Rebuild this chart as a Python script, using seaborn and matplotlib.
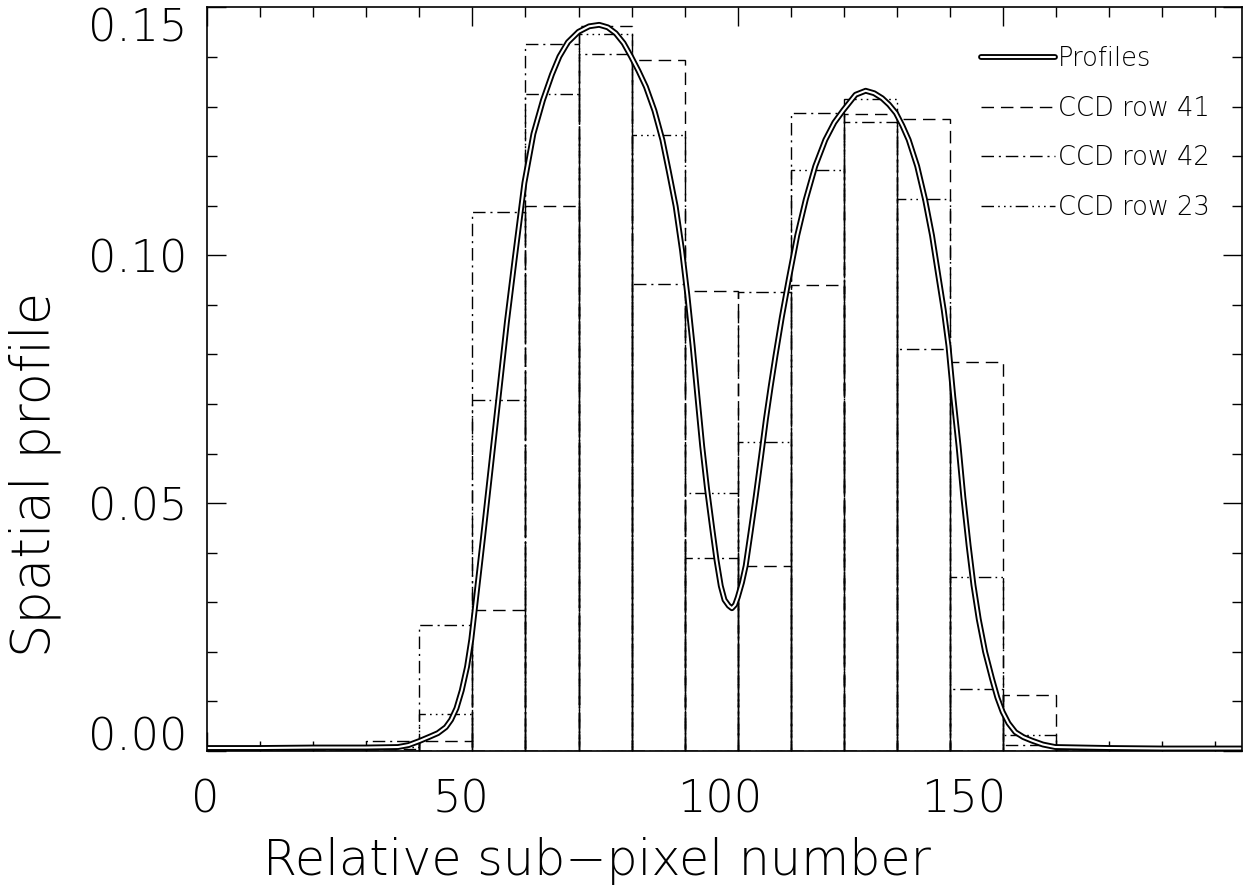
import numpy as np
import pandas as pd
import matplotlib
matplotlib.use('Agg')
import matplotlib.pyplot as plt
import matplotlib.transforms as mtransforms
import seaborn as sns
from matplotlib.ticker import MultipleLocator
from matplotlib.legend_handler import HandlerTuple

# model profile
prof_x = [0, 10, 20, 30, 36, 38, 40, 42, 43.5, 45, 46, 47, 48, 49, 49.8, 50.5, 52,
          53.5, 55, 56.5, 58, 59.8, 61.5, 63.3, 65, 66.4, 68, 70, 72, 73.9, 75.5,
          77, 78.5, 79.9, 81.3, 82.7, 84.3, 85.8, 87, 88.3, 89.5, 90.5, 91.5, 92.4,
          93.3, 94.2, 95.2, 96, 96.8, 97.5, 98.3, 98.9, 99.5, 100, 100.8, 101.5,
          102.4, 103.4, 104.4, 105.3, 106.2, 107.1, 108.3, 109.6, 111.2, 112.8,
          114.6, 116.5, 118.2, 119.9, 122.2, 124.1, 125.7, 127.2, 128.5, 129.8,
          131, 132.2, 133.8, 135.3, 136.6, 137.8, 138.8, 139.7, 140.6, 141.6,
          142.5, 143.5, 144.4, 145.4, 146.6, 147.9, 148.9, 149.9, 151, 152.3,
          153.8, 155.4, 157.5, 159.8, 170, 180, 195]
prof_y = [0.0006, 0.0006, 0.0007, 0.0007, 0.0008, 0.0012, 0.0020, 0.0029, 0.0036,
          0.0048, 0.0063, 0.0086, 0.0122, 0.0170, 0.0225, 0.0290, 0.0430, 0.0575,
          0.0720, 0.0865, 0.0995, 0.1146, 0.1245, 0.1313, 0.1365, 0.1401, 0.1430,
          0.1451, 0.1462, 0.1465, 0.1460, 0.1448, 0.1428, 0.1401, 0.1372, 0.1340,
          0.1292, 0.1233, 0.1170, 0.1099, 0.1010, 0.0920, 0.0817, 0.0715, 0.0615,
          0.0530, 0.0448, 0.0385, 0.0333, 0.0305, 0.0293, 0.0288, 0.0295, 0.0310,
          0.0340, 0.0374, 0.0440, 0.0515, 0.0595, 0.0669, 0.0735, 0.0797, 0.0875,
          0.0951, 0.1040, 0.1112, 0.1180, 0.1233, 0.1268, 0.1293, 0.1324, 0.1332,
          0.1327, 0.1317, 0.1304, 0.1287, 0.1262, 0.1233, 0.1180, 0.1112, 0.1040,
          0.0958, 0.0890, 0.0817, 0.0715, 0.0615, 0.0512, 0.0414, 0.0335, 0.0266,
          0.0200, 0.0146, 0.0108, 0.0079, 0.0056, 0.0038, 0.0028, 0.0021, 0.0013,
          0.0008, 0.0006, 0.0005, 0.0005]

# binned CCD rows (10 sub-pixels per CCD pixel)
bin_left = [0, 10, 20, 30, 40, 50, 60, 70, 80, 90, 100, 110, 120, 130, 140, 150,
            160, 170, 180]
row41 = [0.0004, 0.0004, 0.0004, 0.0004, 0.0021, 0.0285, 0.1100, 0.1462, 0.1394,
         0.0929, 0.0374, 0.0941, 0.1285, 0.1275, 0.0785, 0.0113, 0.0004, 0.0004,
         0.0004]
row42 = [0.0004, 0.0004, 0.0004, 0.0020, 0.0255, 0.1088, 0.1426, 0.1406, 0.0942,
         0.0389, 0.0925, 0.1288, 0.1268, 0.0811, 0.0125, 0.0013, 0.0004, 0.0004,
         0.0004]
row23 = [0.0004, 0.0004, 0.0004, 0.0008, 0.0075, 0.0708, 0.1325, 0.1446, 0.1242,
         0.0520, 0.0624, 0.1173, 0.1316, 0.1114, 0.0352, 0.0032, 0.0004, 0.0004,
         0.0004]

xtick_vals = [0, 50, 100, 150]
xtick_text = ['0', '50', '100', '150']
ytick_vals = [0, 0.05, 0.10, 0.15]
ytick_text = ['0.00', '0.05', '0.10', '0.15']

sns.set_style('ticks')
plt.rcParams['font.family'] = ['DejaVu Sans']
plt.rcParams['font.weight'] = 'light'
plt.rcParams['axes.labelweight'] = 'light'
plt.rcParams['text.color'] = 'black'
plt.rcParams['axes.labelcolor'] = 'black'
plt.rcParams['xtick.color'] = 'black'
plt.rcParams['ytick.color'] = 'black'

fig = plt.figure(figsize=(12.46, 8.90), dpi=100)
ax = fig.add_axes([0.1661, 0.1562, 0.8307, 0.8354])

edges = list(bin_left) + [bin_left[-1] + 10]
centers = [b + 5 for b in bin_left]
styles = {
    'CCD row 41': (row41, (0, (9, 5))),
    'CCD row 42': (row42, (0, (9, 3.5, 1.5, 3.5))),
    'CCD row 23': (row23, (0, (9, 3, 1.2, 3, 1.2, 3, 1.2, 3))),
}
handles = []
for name, (vals, ls) in styles.items():
    sns.histplot(x=centers, weights=vals, bins=edges, fill=False, element='bars',
                 color='black', linewidth=1.0, linestyle=ls, ax=ax)
    handles.append(plt.Line2D([], [], color='black', lw=1.0, linestyle=ls))

prof = pd.DataFrame({'x': prof_x, 'y': prof_y})
sns.lineplot(data=prof, x='x', y='y', color='black', lw=4.2, estimator=None, ax=ax)
sns.lineplot(data=prof, x='x', y='y', color='white', lw=1.5, estimator=None, ax=ax)
h_out = plt.Line2D([], [], color='black', lw=4.2)
h_in = plt.Line2D([], [], color='white', lw=1.5)

ax.set_xlim(0, 195)
ax.set_ylim(0, 0.15)
ax.xaxis.set_minor_locator(MultipleLocator(10))
ax.yaxis.set_minor_locator(MultipleLocator(0.01))
ax.set_xticks(xtick_vals)
ax.set_xticklabels(xtick_text)
ax.set_yticks(ytick_vals)
ax.set_yticklabels(ytick_text)
ax.tick_params(which='both', direction='in', top=True, right=True, color='black',
               width=1.0, labelsize=32, labelcolor='black')
ax.tick_params(which='major', length=14)
ax.tick_params(which='minor', length=7)
ax.tick_params(axis='x', pad=20)
ax.tick_params(axis='y', pad=14)


def shift(label, dx, dy):
    label.set_transform(label.get_transform() +
                        mtransforms.ScaledTranslation(dx / 100, dy / 100,
                                                      fig.dpi_scale_trans))


ylabs = ax.get_yticklabels()
ylabs[0].set_va('baseline')
ylabs[-1].set_va('top')
# labels sit a little left of their ticks in the original
for lab, dx in zip(ax.get_xticklabels(), [-2, -11, -18, -40]):
    shift(lab, dx, 0)
for s in ax.spines.values():
    s.set_color('black')
    s.set_linewidth(1.2)

ax.set_xlabel('Relative sub\u2212pixel number', fontsize=35.5)
ax.set_ylabel('Spatial profile', fontsize=38)
ax.xaxis.set_label_coords(0.377, -0.148)
ax.xaxis.label.set_va('center')
ax.yaxis.set_label_coords(-0.166, 0.372)
ax.yaxis.label.set_va('center')

leg = ax.legend([(h_out, h_in)] + handles, ['Profiles'] + list(styles.keys()),
                handler_map={tuple: HandlerTuple(ndivide=1, pad=0)},
                loc='upper right', bbox_to_anchor=(0.969, 0.948), frameon=False,
                fontsize=18.5, handlelength=2.9, handletextpad=0.1,
                labelspacing=0.96, borderaxespad=0, borderpad=0)

fig.savefig('out.png', dpi=100)
